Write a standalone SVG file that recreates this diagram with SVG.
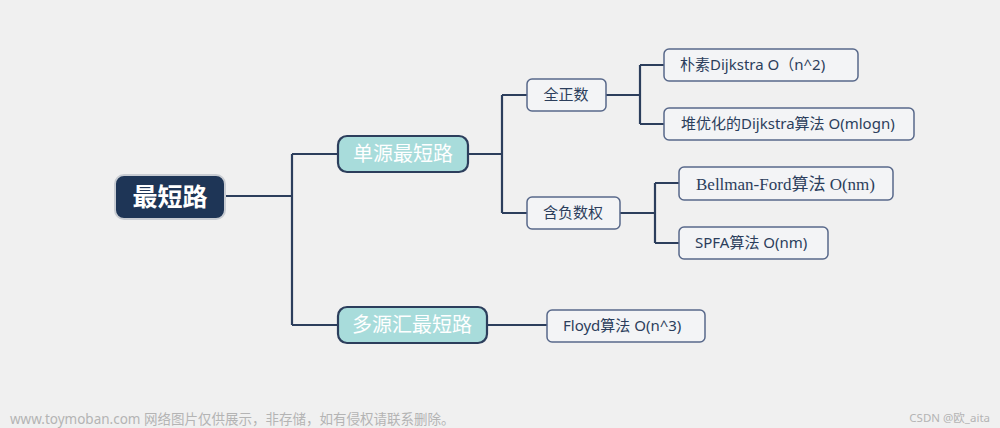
<svg xmlns="http://www.w3.org/2000/svg" width="1000" height="428" viewBox="0 0 1000 428">
<style>
.bg{fill:#f0f0f0}
.conn{fill:none;stroke:#2c3e5c;stroke-width:2.2}
.root{fill:#1e3556;stroke:#c8ccd2;stroke-width:2}
.mid{fill:#a8dcdb;stroke:#2c3e5c;stroke-width:2.2}
.sub{fill:#f3f4f6;stroke:#58688a;stroke-width:1.5}
.leaf{fill:#f3f4f6;stroke:#58688a;stroke-width:1.5}
text{font-family:"Noto Sans","Noto Sans CJK SC",sans-serif}
.t-root{fill:#ffffff;font-size:25px;font-weight:bold}
.t-mid{fill:#ffffff;font-size:20px}
.t-sub{fill:#2c3e5c;font-size:15px}
.t-serif{font-family:"Liberation Serif","Noto Sans CJK SC",serif;fill:#2c3e5c;font-size:17px}
.wm{fill:#b4b4b4;font-size:13.5px}
</style>
<rect class="bg" x="0" y="0" width="1000" height="428"/>
<g id="connectors">
<path class="conn" d="M225,196 H292 M292,154 V325 M292,154 H338 M292,325 H338"/>
<path class="conn" d="M468,154 H502 M502,95 V213 M502,95 H527 M502,213 H527"/>
<path class="conn" d="M606,95 H640 M640,65 V124 M640,65 H664 M640,124 H664"/>
<path class="conn" d="M620,213 H655 M655,183 V243 M655,183 H679 M655,243 H679"/>
<path class="conn" d="M487,325 H547"/>
</g>
<g id="root">
<rect class="root" x="115" y="175" width="110" height="44" rx="9"/>
<text class="t-root" x="170" y="206" text-anchor="middle">最短路</text>
</g>
<g id="single-source">
<rect class="mid" x="338" y="136" width="130" height="36" rx="9"/>
<text class="t-mid" x="403" y="161" text-anchor="middle">单源最短路</text>
</g>
<g id="multi-source">
<rect class="mid" x="338" y="307" width="149" height="36" rx="9"/>
<text class="t-mid" x="412" y="332" text-anchor="middle">多源汇最短路</text>
</g>
<g id="all-positive">
<rect class="sub" x="527" y="79" width="79" height="32" rx="5"/>
<text class="t-sub" x="566" y="100" text-anchor="middle">全正数</text>
</g>
<g id="negative">
<rect class="sub" x="527" y="197" width="93" height="32" rx="5"/>
<text class="t-sub" x="573" y="218" text-anchor="middle">含负数权</text>
</g>
<g id="naive-dijkstra">
<rect class="leaf" x="664" y="49" width="194" height="32" rx="5"/>
<text class="t-sub" x="680" y="70">朴素Dijkstra O（n^2)</text>
</g>
<g id="heap-dijkstra">
<rect class="leaf" x="664" y="108" width="250" height="32" rx="5"/>
<text class="t-sub" x="681" y="129">堆优化的Dijkstra算法 O(mlogn)</text>
</g>
<g id="bellman-ford">
<rect class="leaf" x="679" y="167" width="214" height="33" rx="5"/>
<text class="t-serif" x="696" y="190">Bellman-Ford算法 O(nm)</text>
</g>
<g id="spfa">
<rect class="leaf" x="679" y="227" width="149" height="32" rx="5"/>
<text class="t-sub" x="695" y="248">SPFA算法 O(nm)</text>
</g>
<g id="floyd">
<rect class="leaf" x="547" y="310" width="158" height="32" rx="5"/>
<text class="t-sub" x="563" y="331">Floyd算法 O(n^3)</text>
</g>
<text class="wm" x="10" y="424">www.toymoban.com 网络图片仅供展示，非存储，如有侵权请联系删除。</text>
<text class="wm" x="990" y="422" text-anchor="end" style="font-size:11.5px">CSDN @欧_aita</text>
</svg>
